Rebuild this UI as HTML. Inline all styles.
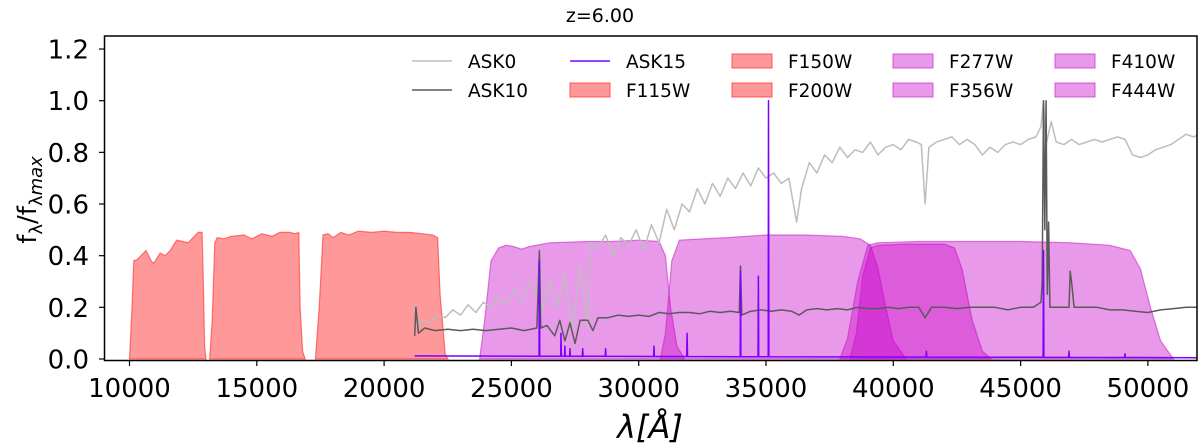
<!DOCTYPE html>
<html><head><meta charset="utf-8"><style>
html,body{margin:0;padding:0;background:#fff}
svg{display:block;font-family:"DejaVu Sans","Liberation Sans",sans-serif}
</style></head><body>
<svg id="chart" width="1200" height="448" viewBox="0 0 1200 448">
<defs><clipPath id="clip"><rect x="104.5" y="36" width="1092.5" height="324.5"/></clipPath></defs>
<text x="600" y="22" text-anchor="middle" font-size="19">z=6.00</text>
<g id="plot" clip-path="url(#clip)"></g>
<rect x="104.5" y="36" width="1092.5" height="324.5" fill="none" stroke="#000" stroke-width="1.5"/>
<g id="xticks"></g>
<g id="yticks"></g>
<text x="650" y="438" text-anchor="middle" font-size="32" font-style="italic">λ[Å]</text>
<text transform="translate(36,200) rotate(-90)" text-anchor="middle" font-size="26">f<tspan font-size="18" dy="6">λ</tspan><tspan dy="-6">/f</tspan><tspan font-size="18" dy="6">λ<tspan font-style="italic">max</tspan></tspan></text>
<g id="legend"></g>
</svg>
<script>
const xTicks=[10000,15000,20000,25000,30000,35000,40000,45000,50000];
const yTicks=[0.0,0.2,0.4,0.6,0.8,1.0,1.2];
const filterNames=["F115W","F150W","F200W","F277W","F356W","F410W","F444W"];
const f115w=[[10000,0],[10100,0.2],[10170,0.38],[10300,0.385],[10450,0.40],[10650,0.42],[10850,0.38],[10950,0.37],[11200,0.41],[11400,0.40],[11600,0.42],[11850,0.46],[12100,0.455],[12300,0.45],[12500,0.47],[12700,0.49],[12850,0.49],[12900,0.3],[12950,0.05],[13000,0]];
const f150w=[[13150,0],[13250,0.15],[13350,0.45],[13450,0.47],[13700,0.465],[14000,0.475],[14500,0.48],[14800,0.465],[15200,0.485],[15600,0.475],[15900,0.49],[16300,0.49],[16500,0.485],[16650,0.49],[16700,0.2],[16800,0.03],[16900,0]];
const f200w=[[17300,0],[17450,0.2],[17600,0.48],[17800,0.485],[18000,0.47],[18300,0.49],[18600,0.48],[19000,0.495],[19500,0.49],[20000,0.495],[20500,0.49],[21000,0.49],[21500,0.485],[21900,0.48],[22100,0.47],[22200,0.25],[22400,0.02],[22500,0]];
const f277w=[[23750,0],[23950,0.15],[24200,0.38],[24500,0.43],[24800,0.44],[25100,0.435],[25400,0.425],[25700,0.435],[26500,0.45],[28000,0.455],[29000,0.455],[30000,0.46],[30800,0.455],[31050,0.40],[31250,0.2],[31500,0.05],[31800,0]];
const f356w=[[30850,0],[31050,0.1],[31300,0.38],[31600,0.46],[32500,0.465],[33500,0.47],[35000,0.48],[36500,0.48],[38000,0.475],[38700,0.465],[39100,0.44],[39400,0.35],[39700,0.2],[40000,0.07],[40500,0]];
const f410w=[[38300,0],[38550,0.1],[38800,0.32],[39100,0.43],[39400,0.44],[40500,0.445],[42000,0.445],[42400,0.43],[42700,0.35],[43100,0.15],[43500,0.03],[43850,0]];
const f444w=[[37900,0],[38200,0.08],[38600,0.3],[39000,0.44],[39400,0.45],[41000,0.455],[43000,0.455],[45000,0.455],[47000,0.45],[48500,0.44],[49300,0.42],[49700,0.35],[50100,0.2],[50500,0.07],[51000,0]];
const ask0=[[21200,.21],[21300,.12],[21500,.15],[21800,.14],[22100,.17],[22400,.16],[22700,.19],[23000,.17],[23300,.21],[23600,.18],[23900,.22],[24200,.20],[24500,.24],[24800,.21],[25100,.27],[25400,.22],[25700,.30],[26000,.25],[26100,.42],[26200,.18],[26500,.30],[26800,.20],[27100,.33],[27400,.10],[27700,.36],[28000,.12],[28100,.45],[28400,.43],[28700,.48],[29000,.40],[29300,.47],[29600,.44],[29900,.50],[30200,.42],[30500,.52],[30800,.45],[31100,.58],[31400,.50],[31700,.60],[32000,.57],[32300,.66],[32600,.60],[32900,.68],[33200,.63],[33500,.70],[33800,.66],[34100,.72],[34400,.67],[34700,.74],[35000,.70],[35300,.72],[35600,.68],[35900,.70],[36200,.53],[36400,.66],[36700,.76],[37000,.72],[37300,.79],[37600,.76],[37900,.82],[38200,.78],[38500,.81],[38800,.80],[39100,.84],[39400,.79],[39700,.82],[40000,.83],[40300,.81],[40600,.85],[40900,.84],[41100,.83],[41250,.60],[41400,.82],[41700,.84],[42000,.85],[42300,.86],[42600,.83],[42900,.85],[43200,.83],[43500,.79],[43800,.82],[44100,.80],[44400,.83],[44700,.84],[45000,.83],[45300,.85],[45600,.86],[45800,.90],[45900,1.0],[46000,.83],[46200,.92],[46400,.84],[46700,.83],[47000,.85],[47300,.83],[47600,.84],[47900,.85],[48200,.84],[48500,.85],[48800,.86],[49100,.85],[49400,.79],[49700,.78],[50000,.79],[50300,.81],[50600,.82],[50900,.83],[51200,.85],[51500,.87],[51800,.86],[52000,.87]];
const ask10=[[21200,.09],[21250,.2],[21350,.1],[21600,.12],[22000,.11],[22500,.115],[23000,.11],[23500,.115],[24000,.11],[24500,.115],[25000,.12],[25500,.11],[26000,.12],[26100,.42],[26150,.12],[26400,.13],[26700,.09],[26900,.15],[27100,.07],[27300,.14],[27500,.06],[27700,.15],[28000,.15],[28200,.11],[28400,.16],[28800,.16],[29200,.17],[29600,.165],[30000,.17],[30400,.165],[30800,.18],[31200,.175],[31600,.18],[32000,.18],[32400,.175],[32800,.185],[33200,.18],[33600,.185],[33950,.18],[34000,.36],[34050,.17],[34400,.185],[34800,.19],[35200,.185],[35600,.19],[36000,.185],[36300,.17],[36600,.19],[37000,.195],[37400,.19],[37800,.195],[38200,.19],[38600,.2],[39000,.195],[39400,.195],[39800,.2],[40200,.195],[40600,.2],[41000,.2],[41250,.16],[41500,.2],[42000,.2],[42500,.195],[43000,.2],[43500,.2],[44000,.2],[44500,.19],[45000,.2],[45500,.2],[45800,.22],[45850,.3],[45900,1.0],[45950,.5],[46000,1.0],[46050,.25],[46100,.53],[46150,.2],[46500,.2],[46900,.2],[46950,.34],[47000,.3],[47100,.2],[47500,.2],[48000,.2],[48500,.19],[49000,.19],[49500,.185],[50000,.18],[50500,.19],[51000,.195],[51500,.2],[52000,.2]];
const ask15Lines=[[26100,.38],[26950,.1],[27100,.05],[27300,.04],[27800,.04],[28700,.04],[30600,.05],[31900,.1],[34000,.34],[34700,.32],[35100,1.0],[41300,.03],[45900,.42],[46900,.03],[49100,.02]];
const ask15Range=[21200,52000];
const ask15Base=[0.012,0.005];

const NS="http://www.w3.org/2000/svg";
const X=l=>129.5+(l-10000)*0.02546;
const Y=v=>359-v*258.3;
function mk(tag,attrs,parent){const e=document.createElementNS(NS,tag);for(const k in attrs)e.setAttribute(k,attrs[k]);parent.appendChild(e);return e;}
const plot=document.getElementById('plot');
const fills={F115W:f115w,F150W:f150w,F200W:f200w,F277W:f277w,F356W:f356w,F410W:f410w,F444W:f444w};
filterNames.forEach((n,i)=>{
  const d=fills[n];const red=i<3;
  const pts=d.map(p=>X(p[0]).toFixed(1)+","+Y(p[1]).toFixed(1)).join(" ");
  const e=mk('polygon',{points:pts,fill:red?'rgba(255,0,0,0.4)':'rgba(200,0,200,0.4)',stroke:red?'rgba(255,40,40,0.6)':'rgba(200,40,200,0.6)','stroke-width':1.2},plot);
  
  
});
function line(d,color,name){
  const e=mk('polyline',{points:d.map(p=>X(p[0]).toFixed(1)+","+Y(p[1]).toFixed(1)).join(" "),fill:'none',stroke:color,'stroke-width':1.5,'stroke-linejoin':'round'},plot);
  
  
}
line(ask0,'#bdbdbd','ask0-line');
line(ask10,'#5a5a5a','ask10-line');
const base=l=>ask15Base[0]+(ask15Base[1]-ask15Base[0])*(l-ask15Range[0])/(ask15Range[1]-ask15Range[0]);
const a15=[[ask15Range[0],base(ask15Range[0])]];
ask15Lines.forEach(p=>{a15.push([p[0]-15,base(p[0]-15)],[p[0],p[1]],[p[0]+15,base(p[0]+15)]);});
a15.push([ask15Range[1],base(ask15Range[1])]);
line(a15,'#7f00ff','ask15-line');

const xt=document.getElementById('xticks');
xTicks.forEach(t=>{
  const x=X(t);
  const tk=mk('line',{x1:x,x2:x,y1:360.5,y2:366,stroke:'#000','stroke-width':1.2},xt);
  
  
  const tx=mk('text',{x:x,y:397,'text-anchor':'middle','font-size':26},xt);tx.textContent=t;
  
  
});
const yt=document.getElementById('yticks');
yTicks.forEach(t=>{
  const y=Y(t);
  const tk=mk('line',{x1:99,x2:104.5,y1:y,y2:y,stroke:'#000','stroke-width':1.2},yt);
  
  
  const tx=mk('text',{x:89,y:y+9.5,'text-anchor':'end','font-size':26},yt);tx.textContent=t.toFixed(1);
  
  
});
const lg=document.getElementById('legend');
const entries=[["ASK0","line","#bdbdbd"],["ASK10","line","#5a5a5a"],["ASK15","line","#7f00ff"],["F115W","red"],["F150W","red"],["F200W","red"],["F277W","mag"],["F356W","mag"],["F410W","mag"],["F444W","mag"]];
const colX=[412,570,732,893,1055];const rowY=[61,90];
entries.forEach((e,i)=>{
  const c=Math.floor(i/2),r=i%2;const x=colX[c],y=rowY[r];
  const g=mk('g',{},lg);
  
  
  if(e[1]==='line')mk('line',{x1:x,x2:x+40,y1:y,y2:y,stroke:e[2],'stroke-width':1.5},g);
  else mk('rect',{x:x,y:y-7,width:40,height:14,fill:e[1]==='red'?'rgba(255,0,0,0.4)':'rgba(200,0,200,0.4)',stroke:e[1]==='red'?'rgba(255,40,40,0.6)':'rgba(200,40,200,0.6)','stroke-width':1.2},g);
  const t=mk('text',{x:x+56,y:y+7,'font-size':18.5},g);t.textContent=e[0];
});
</script>
</body></html>
